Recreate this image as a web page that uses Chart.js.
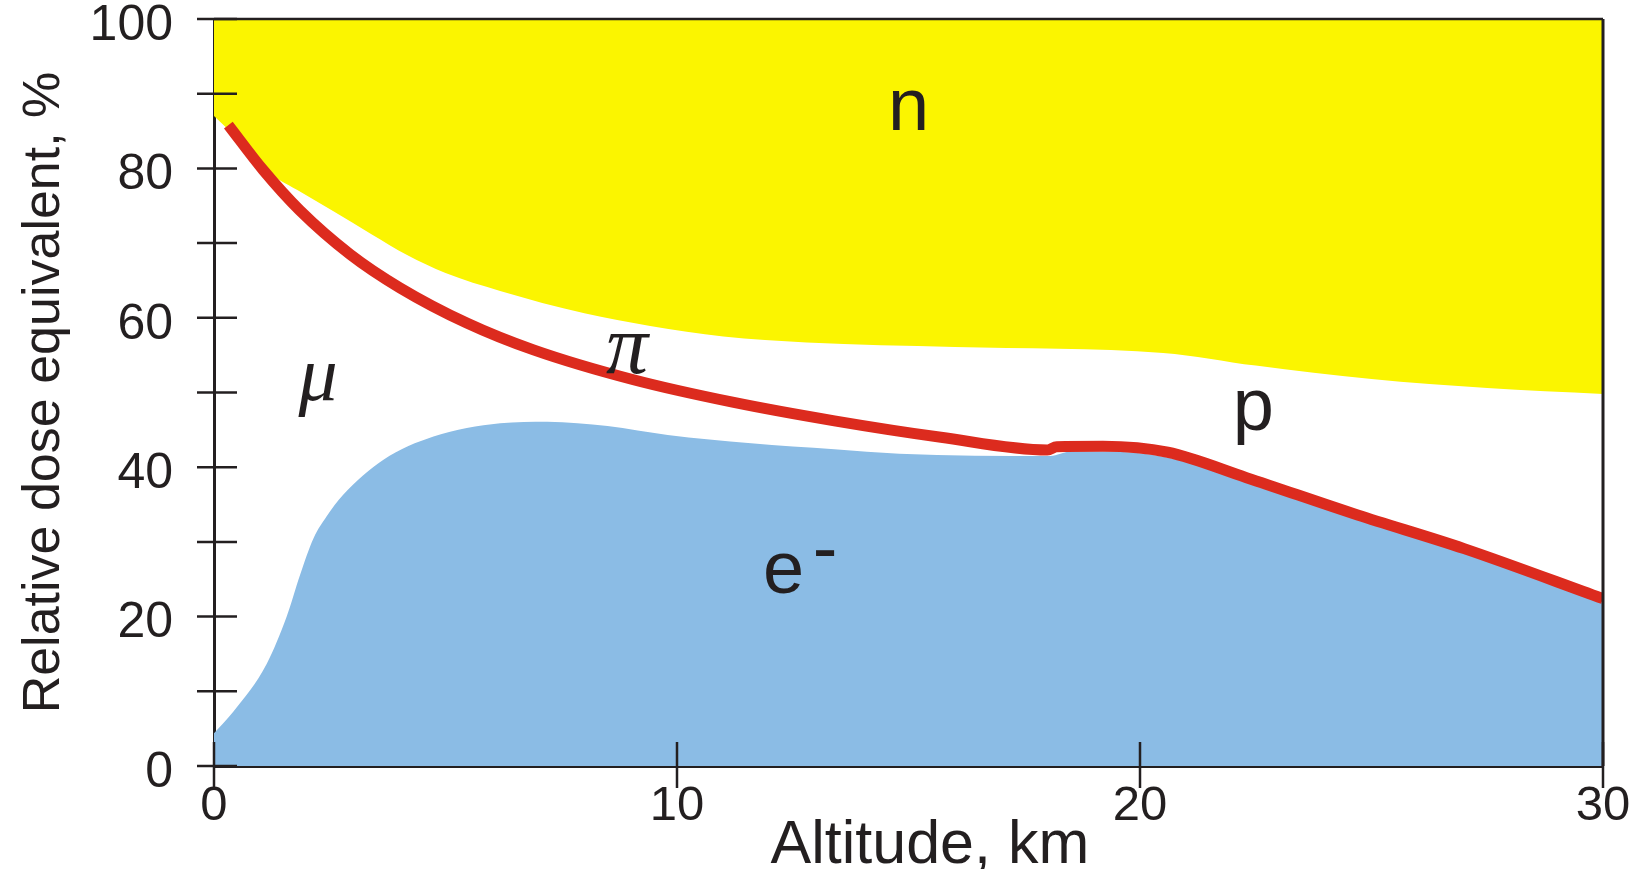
<!DOCTYPE html>
<html>
<head>
<meta charset="utf-8">
<script src="https://cdn.jsdelivr.net/npm/chart.js@4/dist/chart.umd.min.js"></script>
<style>
  html, body { margin: 0; padding: 0; background: #fff; }
  #wrap { width: 1637px; height: 869px; position: relative; }
</style>
</head>
<body>
<div id="wrap"><canvas id="doseChart"></canvas></div>
<script>
// Datos (altitud en km, dosis relativa en %)
const piLineKm  = [0.31, 1.06, 1.85, 2.94, 4.02, 5.46, 6.9, 9.06, 11.2, 13.4, 15.7, 18.0, 18.2, 19.2, 20.6, 22.3, 24.7, 27.0, 30.0];
const piLineVal = [85.8, 79.8, 74.4, 68.5, 64.0, 59.3, 55.7, 51.7, 48.7, 46.2, 44.0, 42.3, 42.75, 42.8, 42.0, 38.6, 33.6, 29.1, 22.4];

const neutronKm  = [0, 0.5, 1.06, 1.8, 2.57, 3.4, 4.17, 5.0, 6.18, 8.0, 9.42, 11.0, 12.8, 16.0, 20.5, 22.5, 25.0, 27.5, 30.0];
const neutronVal = [87.0, 84.0, 80.0, 77.1, 74.3, 71.2, 68.4, 66.0, 63.6, 60.6, 58.9, 57.5, 56.7, 56.1, 55.3, 53.6, 51.8, 50.6, 49.8];

const electronKm  = [0, 0.42, 1.14, 1.57, 1.86, 2.15, 2.43, 2.79, 3.66, 4.74, 6.18, 7.2, 8.5, 9.8, 11.6, 13.4, 14.8, 18.06, 18.5, 19.2, 20.6, 22.3, 24.7, 27.0, 30.0];
const electronVal = [4.4, 7.3, 13.7, 20.0, 25.6, 30.5, 33.4, 36.3, 41.0, 44.1, 45.9, 46.1, 45.5, 44.3, 43.2, 42.4, 41.8, 41.5, 42.1, 42.1, 41.3, 38.0, 33.0, 28.5, 21.8];

const xTicks = [0, 10, 20, 30];
const yLabelled = [0, 20, 40, 60, 80, 100];

// Etiquetas de las regiones (km, %)
const regionLabels = [
  { text: 'n', km: 15.0, val: 85.1, font: '74px "Liberation Sans"' },
  { text: 'p', km: 22.45, val: 45.0, font: '74px "Liberation Sans"' },
  { text: 'e', km: 12.3, val: 23.2, font: '74px "Liberation Sans"' },
  { text: '-', km: 13.2, val: 25.9, font: '74px "Liberation Sans"' },
  { text: 'π', km: 8.92, val: 52.6, font: 'italic 84px "Liberation Serif"' },
  { text: 'μ', km: 2.25, val: 49.0, font: 'italic 78px "Liberation Serif"' }
];

const ink = '#231f20';
const toPoints = (xs, ys) => xs.map((x, i) => ({ x: x, y: ys[i] }));

// Marcas de los ejes, marco superior/derecho y etiquetas
const framePlugin = {
  id: 'frame',
  afterDraw(chart) {
    const { ctx, chartArea: a, scales } = chart;
    ctx.save();
    ctx.strokeStyle = ink;
    ctx.lineWidth = 2.5;
    ctx.beginPath();
    ctx.moveTo(a.left, a.top);
    ctx.lineTo(a.right, a.top);
    ctx.stroke();
    ctx.lineWidth = 3;
    ctx.beginPath();
    ctx.moveTo(a.right, a.top);
    ctx.lineTo(a.right, a.bottom);
    ctx.stroke();

    ctx.lineWidth = 2.5;
    scales.y.ticks.forEach(t => {
      const py = scales.y.getPixelForValue(t.value);
      ctx.beginPath();
      ctx.moveTo(a.left - 17, py);
      ctx.lineTo(a.left + 23, py);
      ctx.stroke();
    });
    xTicks.forEach(v => {
      const px = scales.x.getPixelForValue(v);
      ctx.beginPath();
      ctx.moveTo(px, a.bottom - 24);
      ctx.lineTo(px, a.bottom + 22);
      ctx.stroke();
    });

    ctx.fillStyle = ink;
    ctx.textAlign = 'center';
    ctx.textBaseline = 'alphabetic';
    regionLabels.forEach(l => {
      ctx.font = l.font;
      ctx.fillText(l.text, scales.x.getPixelForValue(l.km), scales.y.getPixelForValue(l.val));
    });
    ctx.restore();
  }
};

new Chart(document.getElementById('doseChart'), {
  type: 'line',
  data: {
    datasets: [
      {
        label: 'π',
        data: toPoints(piLineKm, piLineVal),
        borderColor: '#dc2b1e',
        borderWidth: 11,
        pointRadius: 0,
        fill: false,
        cubicInterpolationMode: 'monotone'
      },
      {
        label: 'n',
        data: toPoints(neutronKm, neutronVal),
        borderWidth: 0,
        backgroundColor: '#fbf500',
        pointRadius: 0,
        fill: 'end',
        cubicInterpolationMode: 'monotone'
      },
      {
        label: 'e-',
        data: toPoints(electronKm, electronVal),
        borderWidth: 0,
        backgroundColor: '#8bbce5',
        pointRadius: 0,
        fill: 'origin',
        cubicInterpolationMode: 'monotone'
      }
    ]
  },
  options: {
    responsive: true,
    maintainAspectRatio: false,
    animation: false,
    events: [],
    layout: { padding: { top: 19, right: 34, left: 0, bottom: 0 } },
    plugins: {
      legend: { display: false },
      tooltip: { enabled: false }
    },
    scales: {
      x: {
        type: 'linear',
        min: 0,
        max: 30,
        z: 1,
        grid: { display: false },
        border: { color: ink, width: 3 },
        ticks: {
          stepSize: 10,
          padding: 3,
          color: ink,
          maxRotation: 0,
          font: { family: 'Liberation Sans', size: 49 }
        },
        title: {
          display: true,
          text: '\u2002\u2009Altitude, km',
          color: ink,
          padding: { top: 0, bottom: -8 },
          font: { family: 'Liberation Sans', size: 61, lineHeight: 1 }
        },
        afterFit(scale) {
          scale.height = 103;
          scale.paddingLeft = 0;
          scale.paddingRight = 0;
        }
      },
      y: {
        min: 0,
        max: 100,
        z: 1,
        grid: { display: false },
        border: { color: ink, width: 3 },
        ticks: {
          stepSize: 10,
          padding: 33,
          labelOffset: 7,
          color: ink,
          font: { family: 'Liberation Sans', size: 50 },
          callback: v => (yLabelled.includes(v) ? v : '')
        },
        title: {
          display: true,
          text: 'Relative dose equivalent, %',
          color: ink,
          padding: { top: 19, bottom: 0 },
          font: { family: 'Liberation Sans', size: 52, lineHeight: 1 }
        },
        afterFit(scale) {
          scale.width = 214;
          scale.paddingTop = 0;
          scale.paddingBottom = 0;
        }
      }
    }
  },
  plugins: [framePlugin]
});
</script>
</body>
</html>
